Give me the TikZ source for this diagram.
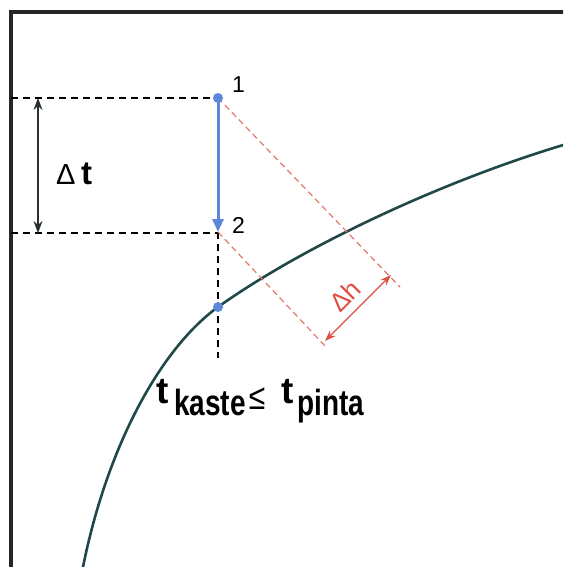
\documentclass[tikz,border=0pt]{standalone}
\usepackage{fontspec}
\setmainfont{Liberation Sans}
\usetikzlibrary{arrows.meta}
\definecolor{frameC}{RGB}{38,38,38}
\definecolor{curveC}{RGB}{32,72,72}
\definecolor{blueC}{RGB}{95,135,215}
\definecolor{redC}{RGB}{222,80,65}
\definecolor{redD}{RGB}{225,120,110}
\definecolor{darkC}{RGB}{40,50,45}
\newcommand{\fsz}[1]{\fontsize{#1}{#1}\selectfont}
\begin{document}
\begin{tikzpicture}[x=1pt,y=-1pt,
  frameline/.style={draw=frameC,line width=3.2pt},
  blackdash/.style={draw=black,line width=1.3pt,dash pattern=on 7pt off 5pt},
  reddash/.style={draw=redD,line width=1.2pt,dash pattern=on 6pt off 4pt},
  curveline/.style={draw=curveC,line width=2.6pt},
  bluedot/.style={fill=blueC,circle,inner sep=0pt,minimum size=10pt},
  lbl/.style={inner sep=0pt,font=\fsz{23}},
  subtxt/.style={inner sep=0pt,font=\fsz{28}\bfseries,anchor=base west}]
\useasboundingbox (0,0) rectangle (563,567);
\fill[white] (0,0) rectangle (563,567);
\begin{scope}
\clip (0,0) rectangle (563,567);
% frame
\coordinate (fr) at (570,12);
\coordinate (fc) at (11,12);
\coordinate (fb) at (11,572);
\draw[frameline] (fr) -- (fc) -- (fb);
% curve
\coordinate (cs) at (82,572);
\coordinate (pc) at (218,307);
\coordinate (ce) at (570,143);
\draw[curveline] (cs) .. controls (106,448) and (160,349) .. (pc)
  .. controls (303,246.5) and (444,180) .. (ce);
\end{scope}
% key points
\coordinate (p1) at (218,98);
\coordinate (p2) at (218,232);
\coordinate (l1) at (11,98);
\coordinate (l2) at (11,233);
\coordinate (m2) at (218,233);
\coordinate (vb) at (218,358);
\coordinate (r1) at (400,287);
\coordinate (r2) at (326,347);
% dashed guides
\draw[blackdash] (l1) -- (p1);
\draw[blackdash] (l2) -- (m2);
\draw[blackdash] (p2) -- (vb);
\draw[reddash] (p1) -- (r1);
\draw[reddash] (p2) -- (r2);
% delta t arrow
\coordinate (dta) at (38,98);
\coordinate (dtb) at (38,233);
\draw[draw=darkC,line width=1.4pt,{Stealth[length=12pt,width=9pt]}-{Stealth[length=12pt,width=9pt]}] (dta) -- (dtb);
% delta h arrow
\coordinate (dha) at (325,341);
\coordinate (dhb) at (391,275);
\draw[draw=redC,line width=1.4pt,{Stealth[length=11pt,width=8pt]}-{Stealth[length=11pt,width=8pt]}] (dha) -- (dhb);
% blue arrow
\draw[draw=blueC,line width=3pt,-{Triangle[length=13pt,width=11pt]}] (p1) -- (p2);
\node[bluedot] (d1) at (p1) {};
\node[bluedot] (dc) at (pc) {};
% labels
\node[lbl,anchor=base west] (n1) at (232,93) {1};
\node[lbl,anchor=base west] (n2) at (232,233) {2};
\node[inner sep=0pt,anchor=base west,font=\fsz{29}] (dlt) at (56,184) {Δ};
\node[inner sep=0pt,anchor=base west,font=\fsz{33}\bfseries] (tt) at (81,184) {t};
\node[inner sep=0pt,rotate=45,text=redC,font=\fsz{26}] (dh) at (345,296) {Δh};
% t_kaste <= t_pinta
\node[inner sep=0pt,anchor=base west,font=\fsz{37}\bfseries] (t1) at (156,403) {t};
\node[subtxt] (ks) at (174,415) {\scalebox{1}[1.3]{kaste}};
\node[inner sep=0pt,font=\fsz{30}] (le) at (257,399) {\scalebox{1}[1.2]{≤}};
\node[inner sep=0pt,anchor=base west,font=\fsz{37}\bfseries] (t2) at (281,403) {t};
\node[subtxt] (pt) at (297,415) {\scalebox{1}[1.3]{pinta}};
\end{tikzpicture}
\end{document}
